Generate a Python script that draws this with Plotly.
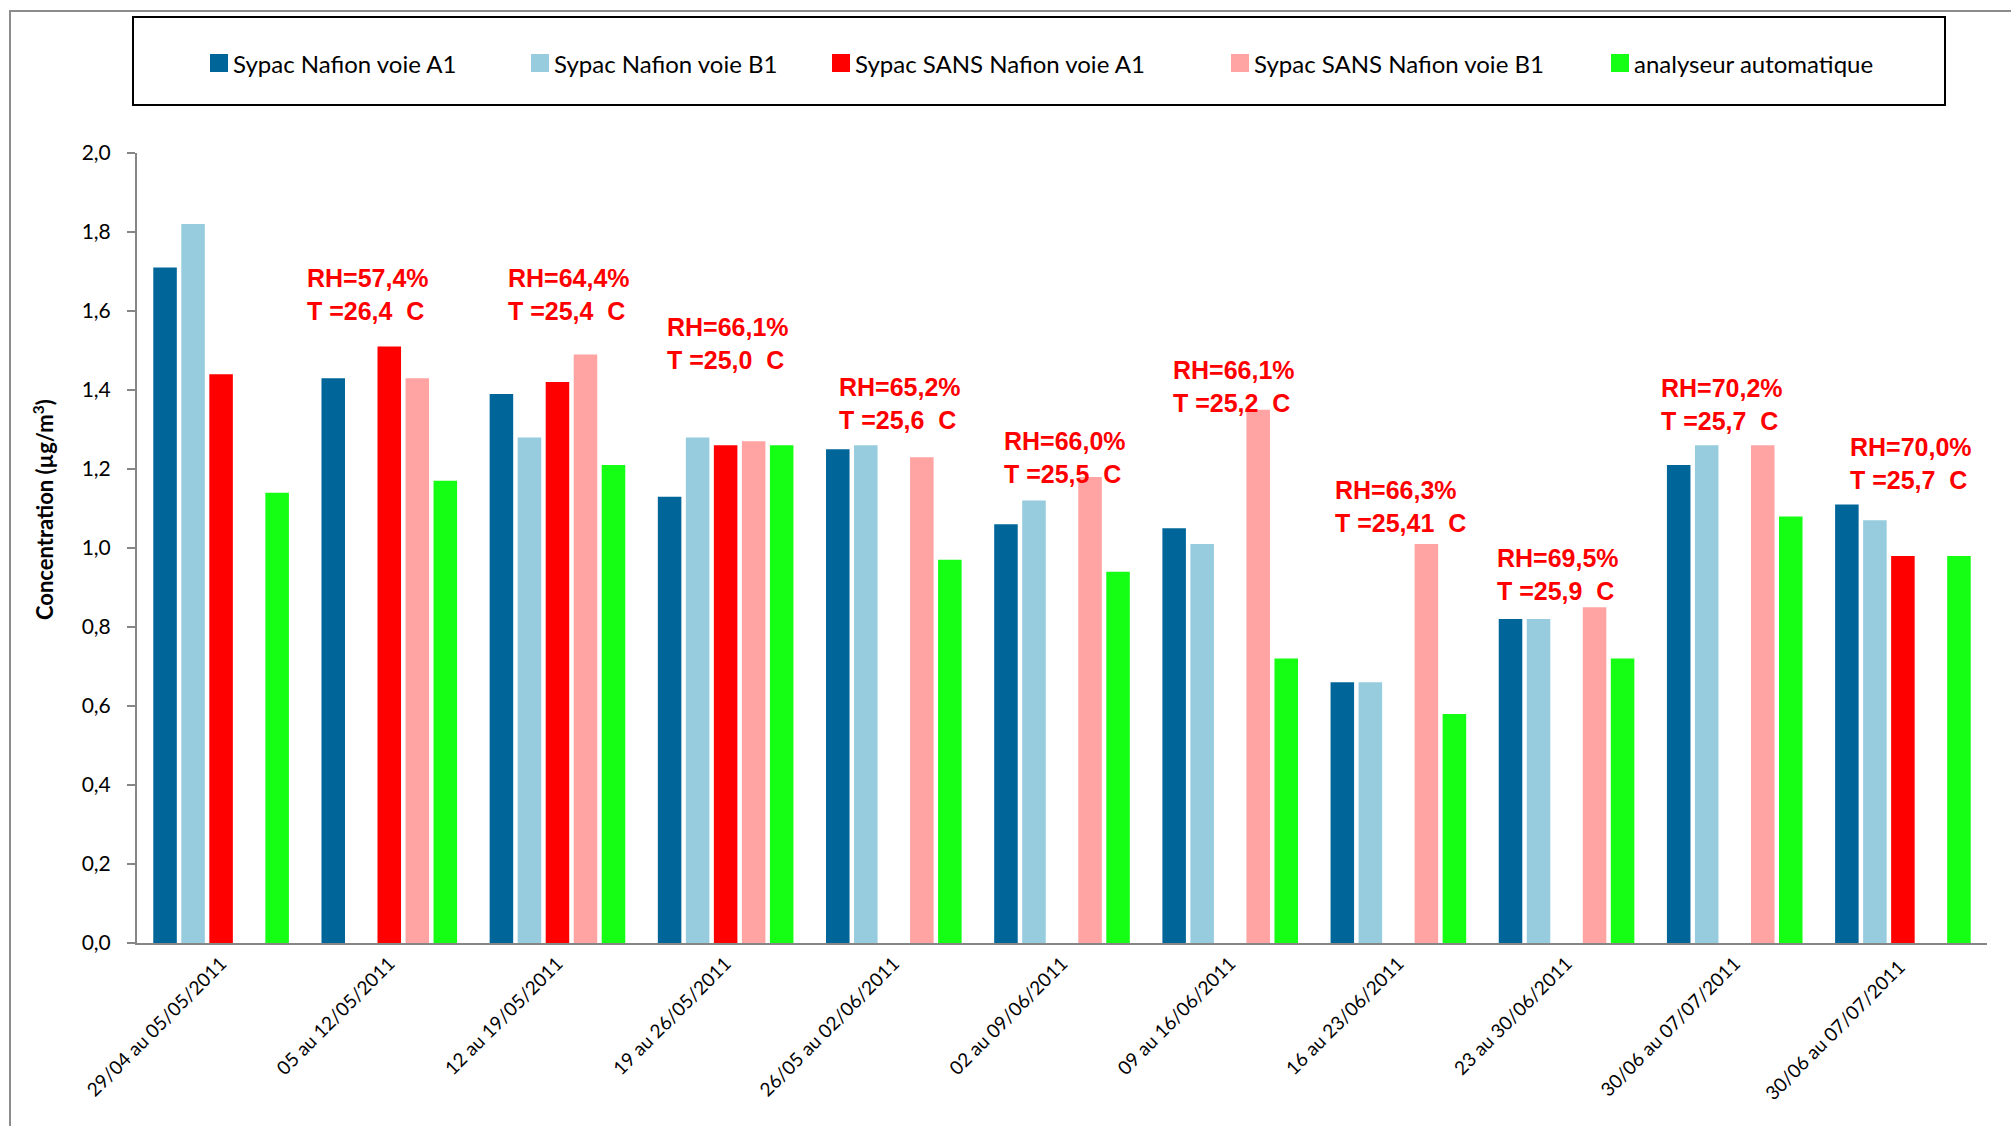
import plotly.graph_objects as go

# Sampling periods (weekly exposures)
periods = [
    "29/04 au 05/05/2011", "05 au 12/05/2011", "12 au 19/05/2011",
    "19 au 26/05/2011", "26/05 au 02/06/2011", "02 au 09/06/2011",
    "09 au 16/06/2011", "16 au 23/06/2011", "23 au 30/06/2011",
    "30/06 au 07/07/2011", "30/06 au 07/07/2011 ",
]

# Concentrations (µg/m3) per sampler
nafion_a1 = [1.71, 1.43, 1.39, 1.13, 1.25, 1.06, 1.05, 0.66, 0.82, 1.21, 1.11]
nafion_b1 = [1.82, None, 1.28, 1.28, 1.26, 1.12, 1.01, 0.66, 0.82, 1.26, 1.07]
sans_a1 = [1.44, 1.51, 1.42, 1.26, None, None, None, None, None, None, 0.98]
sans_b1 = [None, 1.43, 1.49, 1.27, 1.23, 1.18, 1.35, 1.01, 0.85, 1.26, None]
analyseur = [1.14, 1.17, 1.21, 1.26, 0.97, 0.94, 0.72, 0.58, 0.72, 1.08, 0.98]

series_names = [
    "Sypac Nafion voie A1", "Sypac Nafion voie B1",
    "Sypac SANS Nafion voie A1", "Sypac SANS Nafion voie B1",
    "analyseur automatique",
]
series_values = [nafion_a1, nafion_b1, sans_a1, sans_b1, analyseur]
series_colors = ["#006699", "#96CCDE", "#FF0000", "#FFA3A3", "#14FF14"]

# Humidity / temperature conditions for periods 2 to 11
cond_rh = ["57,4", "64,4", "66,1", "65,2", "66,0", "66,1", "66,3", "69,5", "70,2", "70,0"]
cond_t = ["26,4", "25,4", "25,0", "25,6", "25,5", "25,2", "25,41", "25,9", "25,7", "25,7"]

# Label placement: vertical centre (data units) and horizontal shift (px)
cond_y = [1.642, 1.642, 1.519, 1.366, 1.228, 1.409, 1.106, 0.934, 1.364, 1.214]
cond_dx = [-84, -51, -61, -57, -60, -59, -65, -72, -76, -55]

W, H = 2011, 1126
ML, MR, MT, MB = 137, 24, 153, 183
PW, PH = W - ML - MR, H - MT - MB


def px_x(px):
    return (px - ML) / PW


def px_y(py):
    return (H - MB - py) / PH


fig = go.Figure()
for name, vals, col in zip(series_names, series_values, series_colors):
    fig.add_trace(go.Bar(
        x=periods, y=vals, name=name, marker=dict(color=col, line=dict(width=0)),
        showlegend=False,
    ))

annotations = []
for i, (rh, t, yv, dx) in enumerate(zip(cond_rh, cond_t, cond_y, cond_dx)):
    annotations.append(dict(
        x=periods[i + 1], y=yv, xref="x", yref="y", xshift=dx,
        xanchor="left", yanchor="middle", align="left", showarrow=False,
        text=f"RH={rh}%<br>T ={t}\u00a0\u00a0C",
        font=dict(family="Liberation Sans, Arial, sans-serif", size=25, color="#FF0000", weight="bold"),
    ))

# Y axis title
annotations.append(dict(
    x=px_x(43), y=px_y(510), xref="paper", yref="paper", showarrow=False,
    textangle=-90, xanchor="center", yanchor="middle",
    text="<b>Concentration (µg/m<sup>3</sup>)</b>",
    font=dict(family="Lato, sans-serif", size=22, color="black"),
))

shapes = []
# Outer chart frame
shapes.append(dict(type="rect", xref="paper", yref="paper",
                   x0=px_x(10), x1=px_x(2040), y0=px_y(1150), y1=px_y(11),
                   line=dict(color="#8C8C8C", width=2), fillcolor="rgba(0,0,0,0)", layer="below"))
# Legend box
shapes.append(dict(type="rect", xref="paper", yref="paper",
                   x0=px_x(133), x1=px_x(1945), y0=px_y(105), y1=px_y(17),
                   line=dict(color="black", width=2), fillcolor="rgba(0,0,0,0)"))

# Legend entries
legend_left = [210, 531, 832, 1231, 1611]
for lx, name, col in zip(legend_left, series_names, series_colors):
    shapes.append(dict(type="rect", xref="paper", yref="paper",
                       x0=px_x(lx), x1=px_x(lx + 18), y0=px_y(72), y1=px_y(54),
                       line=dict(width=0), fillcolor=col))
    annotations.append(dict(
        x=px_x(lx + 21), y=px_y(63), xref="paper", yref="paper", showarrow=False,
        xanchor="left", yanchor="middle", text=name,
        font=dict(family="Lato, sans-serif", size=24, color="black"),
    ))

fig.update_layout(
    width=W, height=H,
    margin=dict(l=ML, r=MR, t=MT, b=MB, autoexpand=False),
    paper_bgcolor="white", plot_bgcolor="white",
    barmode="group", bargap=0.167, bargroupgap=0.16,
    separators=", ",
    showlegend=False,
    annotations=annotations, shapes=shapes,
    font=dict(family="Lato, sans-serif", color="black"),
)
fig.update_xaxes(
    type="category", range=[-0.5, 10.5], showline=True, linecolor="#868686", linewidth=2,
    ticks="", tickangle=-45, tickfont=dict(family="Lato, sans-serif", size=19, color="black"),
    showgrid=False, zeroline=False,
)
fig.update_yaxes(
    range=[0, 2.0], dtick=0.2, tick0=0, tickformat=".1f",
    showline=True, linecolor="#868686", linewidth=2,
    ticks="outside", ticklen=8, tickwidth=2, tickcolor="#868686",
    ticklabelstandoff=12,
    tickfont=dict(family="Lato, sans-serif", size=21, color="black"),
    showgrid=False, zeroline=False,
)

fig.write_html("out.html")
